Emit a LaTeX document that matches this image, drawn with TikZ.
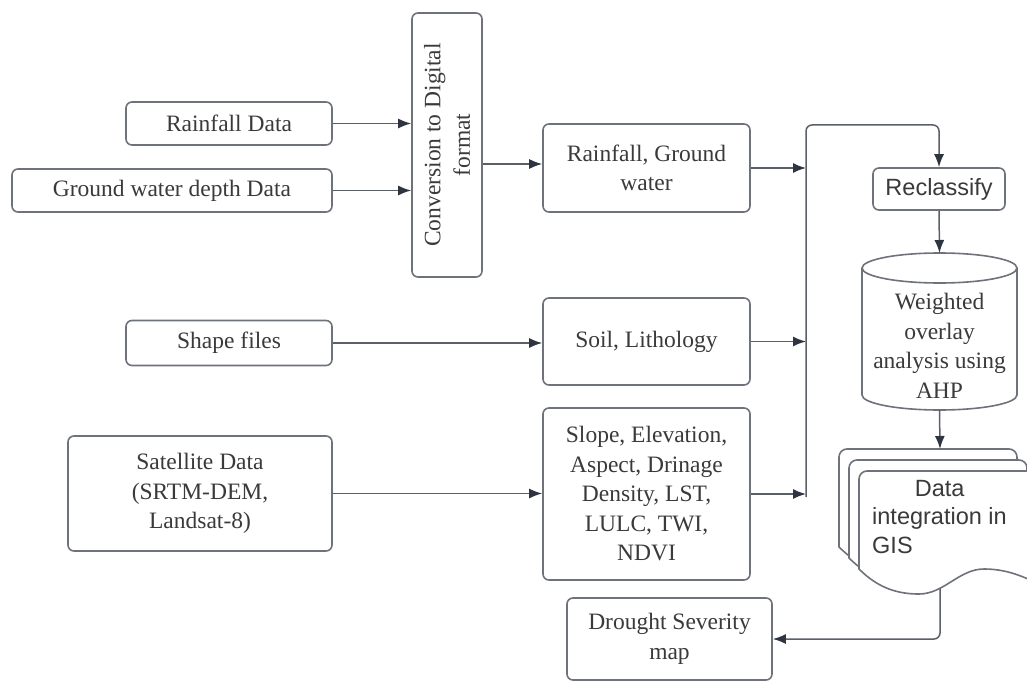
\documentclass[tikz,border=0pt]{standalone}
\usepackage{fontspec}
\setmainfont{Liberation Serif}
\newfontfamily\arialfont{Liberation Sans}
\usetikzlibrary{arrows.meta}
\definecolor{boxline}{HTML}{6E727A}
\definecolor{conn}{HTML}{5A5F68}
\definecolor{tipc}{HTML}{2E3440}
\definecolor{txt}{HTML}{3A3A3A}
\tikzset{
  box/.style={draw=boxline, line width=1.6pt, rounded corners=6pt, fill=white,
    text=txt, align=center, inner sep=2pt,
    font=\fontsize{23.5}{29.5}\selectfont},
  sansbox/.style={box, font=\arialfont\fontsize{23.5}{29.5}\selectfont},
  conline/.style={draw=conn, line width=1.5pt},
  arr/.style={conline, -{Latex[length=13pt,width=10pt,color=tipc]}},
  pagestyle/.style={draw=boxline, line width=1.6pt, fill=white},
  plain/.style={text=txt, align=center, inner sep=0pt,
    font=\fontsize{23.5}{29.5}\selectfont}
}
\begin{document}
\begin{tikzpicture}[x=1pt,y=-1pt]
\useasboundingbox (0,0) rectangle (1027,682);
\begin{scope}
\clip (0,0) rectangle (1027,682);

% left inputs
\node[box, minimum width=206pt, minimum height=43pt] (rain) at (229,123.5) {Rainfall Data};
\node[box, minimum width=320pt, minimum height=43pt] (gw) at (172,190.5) {Ground water depth Data};
\node[box, minimum width=70pt, minimum height=264pt] (conv) at (447,145) {};
\node[plain, rotate=90] (convtxt) at (conv.center) {Conversion to Digital\\format};
\node[box, minimum width=206pt, minimum height=45pt] (shape) at (229,343) {Shape files};
\node[box, minimum width=264pt, minimum height=115pt] (sat) at (200,493.5) {Satellite Data\\(SRTM-DEM,\\Landsat-8)};

% middle column
\node[box, minimum width=207pt, minimum height=88pt] (rgw) at (646.5,168) {Rainfall, Ground\\water};
\node[box, minimum width=207pt, minimum height=87pt] (soil) at (646.5,341.5) {Soil, Lithology};
\node[box, minimum width=207pt, minimum height=172pt] (slope) at (646.5,494) {Slope, Elevation,\\Aspect, Drinage\\Density, LST,\\LULC, TWI,\\NDVI};
\node[box, minimum width=205pt, minimum height=82pt] (drought) at (669.5,639) {Drought Severity\\map};

% right column
\node[sansbox, minimum width=132pt, minimum height=42pt] (recl) at (939,189) {Reclassify};

% cylinder
\coordinate (cyltop) at (939.5,253);
\coordinate (cylbot) at (939.5,410);
\fill[white] (862,268) rectangle (1017,395);
\draw[pagestyle] (862,268) -- (862,395) arc[start angle=180,end angle=360,x radius=77.5pt,y radius=15pt] -- (1017,268);
\draw[pagestyle] (939.5,268) ellipse [x radius=77.5pt, y radius=15pt];
\node[plain] (cyl) at (939.5,346) {Weighted\\overlay\\analysis using\\AHP};

% multi-document
\foreach \d in {0,10,20}{
  \pgfmathsetmacro{\L}{839+\d}
  \pgfmathsetmacro{\T}{449+\d*1.1}
  \pgfmathsetmacro{\R}{\L+178}
  \pgfmathsetmacro{\B}{\T+98}
  \draw[pagestyle] (\L,\B) [rounded corners=8pt] -- (\L,\T) -- (\R,\T) -- (\R,\B+14) [sharp corners]
    .. controls (\R-18,\B+6) and (\R-33,\B) .. (\L+125,\B)
    .. controls (\L+100,\B) and (\L+85,\B+25) .. (\L+60,\B+25)
    .. controls (\L+40,\B+25) and (\L+20,\B+20) .. (\L,\B) -- cycle;
}
\coordinate (doctop) at (940,449);
\coordinate (docbot) at (940,589);
\node[plain, anchor=west, align=left, font=\arialfont\fontsize{23.5}{28.5}\selectfont] (doc) at (872,517)
  {\makebox[135pt][c]{Data}\\integration in\\GIS};

% bus
\coordinate (busbot) at (806,497);
\coordinate (bustop) at (806,125);

% connectors
\draw[arr] (rain.east) -- (rain.east -| conv.west);
\draw[arr] (gw.east) -- (gw.east -| conv.west);
\draw[arr] (conv.east |- 0,164) -- (rgw.west |- 0,164);
\draw[arr] (shape.east) -- (shape.east -| soil.west);
\draw[arr] (sat.east) -- (sat.east -| slope.west);
\draw[arr] (rgw.east) -- (rgw.east -| busbot);
\draw[arr] (soil.east) -- (soil.east -| busbot);
\draw[arr] (slope.east) -- (slope.east -| busbot);
\draw[arr, rounded corners=6pt] (busbot) -- (bustop) -| (recl.north);
\draw[arr] (recl.south) -- (cyltop);
\draw[arr] (cylbot) -- (doctop);
\draw[arr, rounded corners=6pt] (docbot) |- (drought.east);
\end{scope}
\end{tikzpicture}
\end{document}
